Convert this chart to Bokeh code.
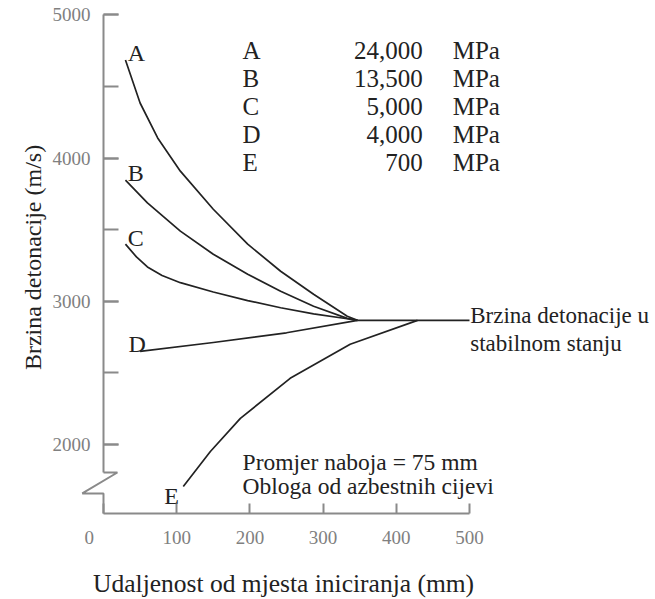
import math
from bokeh.plotting import figure
from bokeh.models import LinearAxis, SingleIntervalTicker, FixedTicker, ColumnDataSource
from bokeh.core.properties import value
from bokeh.embed import file_html
from bokeh.resources import INLINE

# ---- data ----
dist_A = [30, 50, 74, 105, 150, 197, 242, 287, 333, 347]
vel_A = [4685, 4385, 4141, 3909, 3643, 3399, 3210, 3049, 2895, 2867]
dist_B = [30, 60, 105, 150, 197, 242, 287, 333, 347]
vel_B = [3846, 3687, 3490, 3329, 3189, 3070, 2965, 2881, 2867]
dist_C = [30, 45, 60, 80, 105, 150, 197, 242, 287, 333, 347]
vel_C = [3399, 3310, 3240, 3180, 3130, 3065, 3005, 2955, 2912, 2878, 2867]
dist_D = [50, 150, 250, 347]
vel_D = [2650, 2712, 2780, 2867]
dist_E = [109, 146, 187, 255, 337, 429]
vel_E = [1706, 1951, 2182, 2462, 2700, 2867]
dist_steady = [347, 500]
vel_steady = [2867, 2867]

curve_names = ["A", "B", "C", "D", "E"]
moduli = ["24,000", "13,500", "5,000", "4,000", "700"]
unit = "MPa"
x_ticks = [0, 100, 200, 300, 400, 500]
y_tick_interval = 1000

SERIF = value("Liberation Serif")
INK = "#222222"
AXIS = "#8a8a8a"

p = figure(width=655, height=599, x_range=(-140.7, 754.1), y_range=(917, 5101),
           x_axis_location=None, y_axis_location=None, toolbar_location=None,
           output_backend="svg", min_border=0, outline_line_color=None,
           background_fill_color="white", border_fill_color="white")
p.xgrid.visible = False
p.ygrid.visible = False

x_base = 1518     # value at the x-axis line (broken axis)
brk_hi = 1804
brk_lo = 1658

# y axis (upper part, with ticks)
yax = LinearAxis(fixed_location=0, bounds=(brk_hi, 5000),
                 ticker=SingleIntervalTicker(interval=y_tick_interval, num_minor_ticks=2))
yax.axis_line_color = AXIS
yax.axis_line_width = 2
yax.major_tick_in = 15
yax.major_tick_out = 0
yax.minor_tick_in = 15
yax.minor_tick_out = 0
yax.major_tick_line_color = AXIS
yax.minor_tick_line_color = AXIS
yax.major_tick_line_width = 2
yax.minor_tick_line_width = 2
yax.major_label_standoff = 13
yax.major_label_text_font = "Liberation Serif"
yax.major_label_text_font_size = "19px"
yax.major_label_text_color = "#808080"
p.add_layout(yax, "left")

# x axis
xax = LinearAxis(fixed_location=x_base, bounds=(0, 500), ticker=FixedTicker(ticks=x_ticks))
xax.axis_line_color = AXIS
xax.axis_line_width = 2
xax.major_tick_in = 10
xax.major_tick_out = 0
xax.minor_tick_line_color = None
xax.major_tick_line_color = AXIS
xax.major_tick_line_width = 2
xax.major_label_standoff = 14
xax.major_label_text_font = "Liberation Serif"
xax.major_label_text_font_size = "19px"
xax.major_label_text_color = "#808080"
xax.major_label_overrides = {0: "0\u2003\u2002"}
p.add_layout(xax, "below")

# axis break (zig-zag) and lower stub of the y axis
p.line(x=[0, 19, -29, 0, 0], y=[brk_hi, brk_hi, brk_lo, brk_lo, x_base],
       line_color=AXIS, line_width=2)

# curves
for xs, ys in [(dist_A, vel_A), (dist_B, vel_B), (dist_C, vel_C),
               (dist_D, vel_D), (dist_E, vel_E), (dist_steady, vel_steady)]:
    p.line(x=xs, y=ys, line_color=INK, line_width=1.7, line_join="round")

# curve letters
p.text(x=[45, 44, 44, 46, 93], y=[4737, 3899, 3445, 2705, 1643], text=curve_names,
       text_font=SERIF, text_font_size="24px", text_color=INK,
       text_align="center", text_baseline="alphabetic")

# table of moduli
rows = ColumnDataSource(dict(
    name=curve_names, mod=moduli, unit=[unit] * len(moduli),
    y=[4752 - i * 195 for i in range(len(moduli))]))
p.text(x=190, y="y", text="name", source=rows, text_font=SERIF, text_font_size="25px",
       text_color=INK, text_align="left", text_baseline="alphabetic")
p.text(x=436, y="y", text="mod", source=rows, text_font=SERIF, text_font_size="25px",
       text_color=INK, text_align="right", text_baseline="alphabetic")
p.text(x=477, y="y", text="unit", source=rows, text_font=SERIF, text_font_size="25px",
       text_color=INK, text_align="left", text_baseline="alphabetic")

# annotations
p.text(x=[501, 501], y=[2901, 2705], text=["Brzina detonacije u", "stabilnom stanju"],
       text_font=SERIF, text_font_size="23px", text_color=INK,
       text_align="left", text_baseline="alphabetic")
p.text(x=[190, 190], y=[1874, 1713], text=["Promjer naboja = 75 mm", "Obloga od azbestnih cijevi"],
       text_font=SERIF, text_font_size="23.5px", text_color=INK,
       text_align="left", text_baseline="alphabetic")

# axis titles
p.text(x=[-96], y=[3306], text=["Brzina detonacije (m/s)"], angle=math.pi / 2,
       text_font=SERIF, text_font_size="24px", text_color=INK,
       text_align="center", text_baseline="middle")
p.text(x=[246], y=[1029], text=["Udaljenost od mjesta iniciranja (mm)"],
       text_font=SERIF, text_font_size="25.5px", text_color=INK,
       text_align="center", text_baseline="alphabetic")

open("out.html", "w").write(file_html(p, INLINE))
